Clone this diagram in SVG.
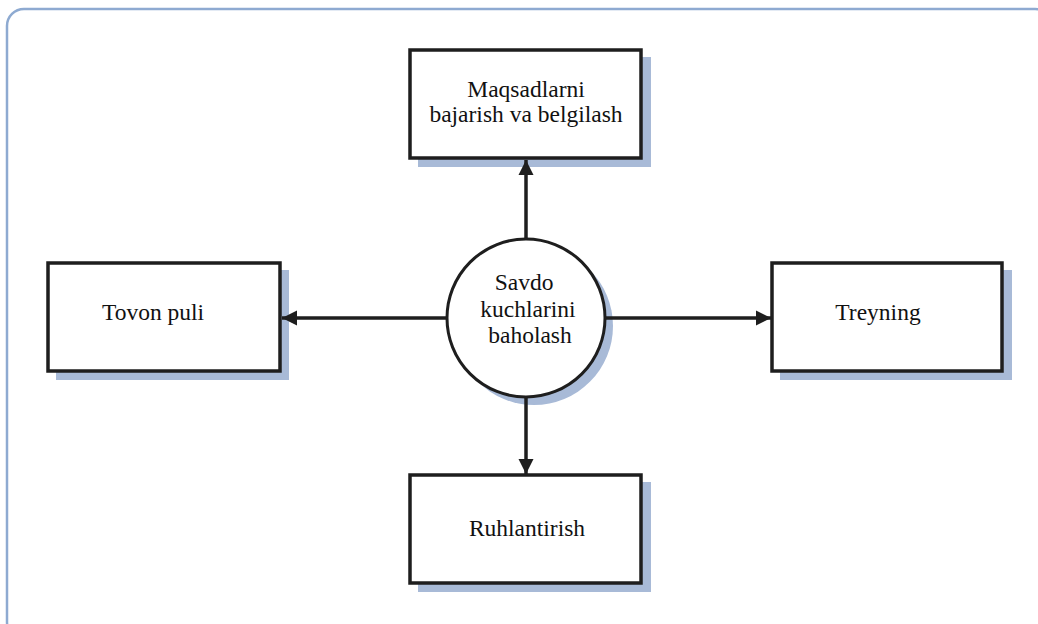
<svg xmlns="http://www.w3.org/2000/svg" width="1038" height="624" viewBox="0 0 1038 624">
  <style>
    .frame { fill: #ffffff; stroke: #8eaad1; stroke-width: 2.5; }
    .box { fill: #ffffff; stroke: #1e1e1e; stroke-width: 3.5; }
    .shadow { fill: #a8bad7; }
    .label { font-family: "Liberation Serif", "Times New Roman", serif; font-size: 23.5px; fill: #111111; text-anchor: middle; }
    .link { stroke: #1e1e1e; stroke-width: 3.5; fill: none; }
  </style>
  <defs>
    <marker id="arrow" viewBox="0 0 10 10" refX="10" refY="5" markerWidth="4.4" markerHeight="4.4" markerUnits="strokeWidth" orient="auto">
      <path d="M0,0 L10,5 L0,10 z" fill="#1e1e1e"/>
    </marker>
  </defs>

  <!-- outer panel -->
  <rect class="frame" x="7" y="9" width="1045" height="630" rx="17" ry="17"/>

  <!-- top node -->
  <g id="node-maqsad">
    <rect class="shadow" x="418" y="57" width="233" height="110"/>
    <rect class="box" x="410" y="50" width="231" height="108"/>
    <text class="label" x="526" y="97">Maqsadlarni</text>
    <text class="label" x="526" y="122">bajarish va belgilash</text>
  </g>

  <!-- left node -->
  <g id="node-tovon">
    <rect class="shadow" x="56" y="270" width="233" height="110"/>
    <rect class="box" x="48" y="263" width="232" height="108"/>
    <text class="label" x="153" y="320">Tovon puli</text>
  </g>

  <!-- right node -->
  <g id="node-treyning">
    <rect class="shadow" x="780" y="270" width="232" height="110"/>
    <rect class="box" x="772" y="263" width="230" height="108"/>
    <text class="label" x="878" y="320">Treyning</text>
  </g>

  <!-- bottom node -->
  <g id="node-ruhlantirish">
    <rect class="shadow" x="418" y="482" width="233" height="110"/>
    <rect class="box" x="410" y="475" width="231" height="108"/>
    <text class="label" x="527" y="536">Ruhlantirish</text>
  </g>

  <!-- central node -->
  <g id="node-savdo">
    <circle class="shadow" cx="534" cy="326" r="79"/>
    <circle cx="526" cy="318" r="79" fill="#ffffff" stroke="#1e1e1e" stroke-width="3"/>
    <text class="label" x="524" y="290">Savdo</text>
    <text class="label" x="528" y="317">kuchlarini</text>
    <text class="label" x="530" y="343">baholash</text>
  </g>

  <!-- connectors -->
  <g id="connectors">
    <line class="link" x1="526" y1="239" x2="526" y2="160" marker-end="url(#arrow)"/>
    <line class="link" x1="447" y1="318" x2="282" y2="318" marker-end="url(#arrow)"/>
    <line class="link" x1="605" y1="318" x2="771" y2="318" marker-end="url(#arrow)"/>
    <line class="link" x1="526" y1="397" x2="526" y2="474" marker-end="url(#arrow)"/>
  </g>
</svg>
